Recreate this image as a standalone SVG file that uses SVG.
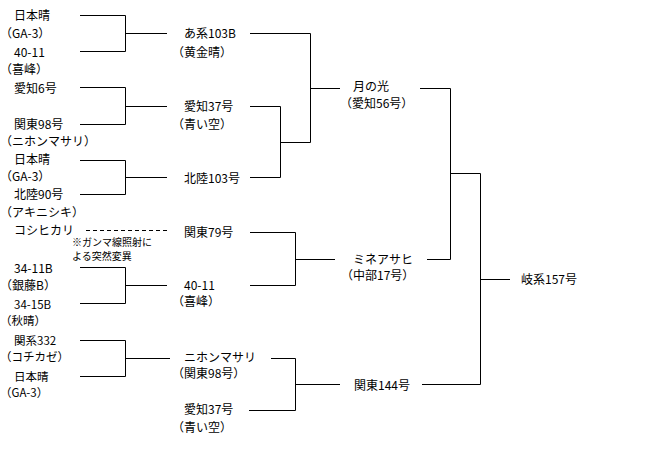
<svg xmlns="http://www.w3.org/2000/svg" width="670" height="456" viewBox="0 0 670 456">
<style>
text{font-family:"Noto Sans CJK JP","Noto Sans",sans-serif;font-size:12px;fill:#000}
.s{font-size:10px}
.t{font-size:11.5px}
.c path{stroke:#000;stroke-width:1;fill:none}
.c .d{stroke-dasharray:4 3}
</style>
<rect width="670" height="456" fill="#fff"/>
<g class="c" id="connectors">
<path d="M80 15.5H125.5V51.5H80M125.5 33.5H167"/>
<path d="M80 87.5H125.5V124.5H80M125.5 106.5H167"/>
<path d="M80 160.5H125.5V194.5H80M125.5 177.5H167"/>
<path d="M80 267.5H125.5V303.5H80M125.5 285.5H167"/>
<path d="M80 340.5H125.5V376.5H80M125.5 358.5H170"/>
<path class="d" d="M86 230.5H170"/>
<path d="M250 33.5H310.5V142.5H280.5M250 106.5H280.5V177.5H250M310.5 88.5H340"/>
<path d="M250 232.5H295.5V285.5H250M295.5 259.5H335"/>
<path d="M271 358.5H295.5V410.5H249M295.5 384.5H340"/>
<path d="M420 88.5H450.5V259.5H427M450.5 173.5H480.5V384.5H422M480.5 279.5H510"/>
</g>
<g id="n1"><text x="14" y="20">日本晴</text><text x="0" y="38">（GA-3）</text></g>
<g id="n2"><text x="14" y="57">40-11</text><text x="0" y="74">（喜峰）</text></g>
<g id="n3"><text x="14" y="93">愛知6号</text></g>
<g id="n4"><text x="14" y="129">関東98号</text><text x="0" y="146">（ニホンマサリ）</text></g>
<g id="n5"><text x="14" y="164">日本晴</text><text x="0" y="181">（GA-3）</text></g>
<g id="n6"><text x="14" y="199">北陸90号</text><text x="0" y="217">（アキニシキ）</text></g>
<g id="n7"><text x="14" y="235">コシヒカリ</text></g>
<g id="note"><text class="s" x="72" y="245.5">※ガンマ線照射に</text><text class="s" x="72" y="260">よる突然変異</text></g>
<g id="n8"><text x="14" y="272.5">34-11B</text><text x="0" y="289.5">（銀藤B）</text></g>
<g id="n9"><text class="t" x="14" y="308.5">34-15B</text><text class="t" x="0" y="324.5">（秋晴）</text></g>
<g id="n10"><text class="t" x="14" y="344.5">関系332</text><text class="t" x="0" y="360.5">（コチカゼ）</text></g>
<g id="n11"><text class="t" x="14" y="380.5">日本晴</text><text class="t" x="0" y="397">（GA-3）</text></g>
<g id="m1"><text x="184" y="38">あ系103B</text><text x="172" y="56.5">（黄金晴）</text></g>
<g id="m2"><text x="184" y="111">愛知37号</text><text x="172" y="128.5">（青い空）</text></g>
<g id="m3"><text x="184" y="182.5">北陸103号</text></g>
<g id="m4"><text x="184" y="236.5">関東79号</text></g>
<g id="m5"><text x="184" y="290">40-11</text><text x="172" y="306">（喜峰）</text></g>
<g id="m6"><text x="184" y="361.5">ニホンマサリ</text><text x="172" y="377.5">（関東98号）</text></g>
<g id="m7"><text x="184" y="413.5">愛知37号</text><text x="172" y="431.5">（青い空）</text></g>
<g id="p1"><text x="353" y="91">月の光</text><text x="340" y="107.5">（愛知56号）</text></g>
<g id="p2"><text x="353" y="263.5">ミネアサヒ</text><text x="341" y="279.5">（中部17号）</text></g>
<g id="p3"><text x="354" y="389.5">関東144号</text></g>
<g id="q1"><text x="521" y="283.5">岐系157号</text></g>
</svg>
